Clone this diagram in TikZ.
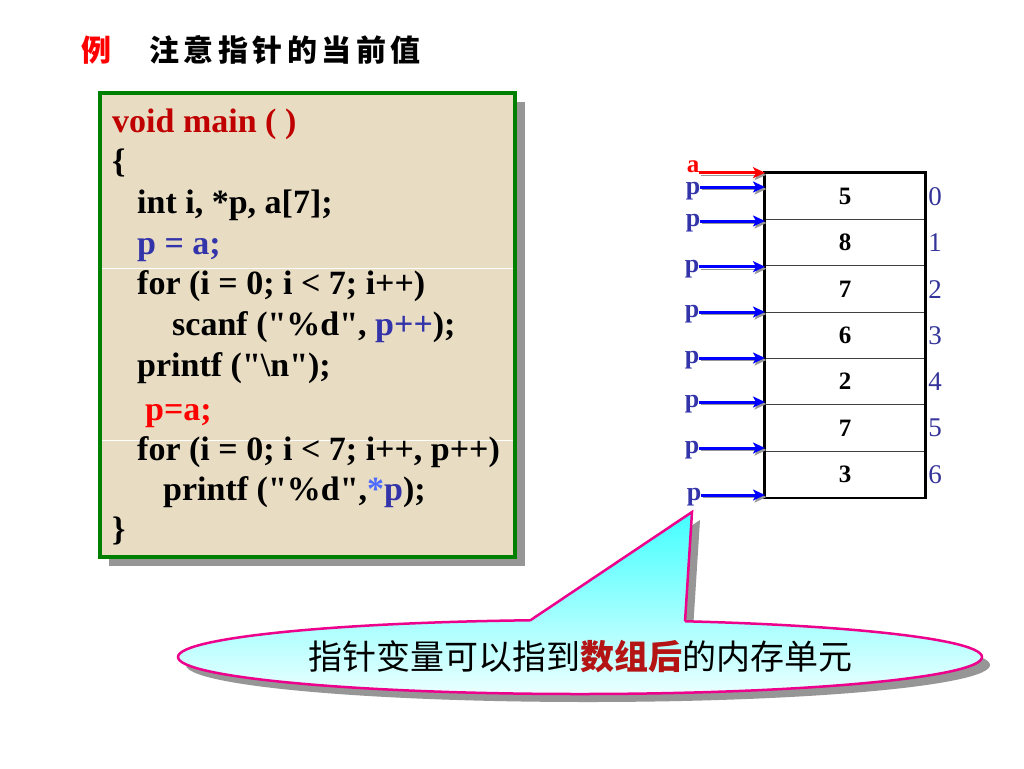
\documentclass[tikz,border=0pt]{standalone}
\usepackage{fontspec}
\setmainfont{Liberation Serif}
\newfontfamily\cjk{Noto Sans CJK SC}
\newfontfamily\cjkt[LetterSpace=15]{Noto Sans CJK SC}
\usetikzlibrary{arrows.meta}
\definecolor{codered}{RGB}{192,0,0}
\definecolor{pblue}{RGB}{51,51,170}
\definecolor{starblue}{RGB}{77,107,255}
\definecolor{codegreen}{RGB}{0,128,0}
\definecolor{paper}{RGB}{232,221,195}
\definecolor{shadowgray}{RGB}{150,150,150}
\definecolor{idxblue}{RGB}{51,51,153}
\definecolor{calltop}{RGB}{64,255,255}
\definecolor{callbot}{RGB}{240,255,255}
\definecolor{darkred}{RGB}{180,20,20}
\newcommand\dq{\textquotedbl}
\tikzset{
  codeline/.style={anchor=base west, inner sep=0pt, font=\fontsize{34}{40}\selectfont\bfseries},
  cell/.style={draw=black!75, line width=0.9pt, minimum width=160pt, minimum height=46.33pt, inner sep=0pt, font=\fontsize{25}{30}\selectfont\bfseries},
  idx/.style={inner sep=0pt, text=idxblue, font=\fontsize{27}{30}\selectfont},
  plabel/.style={inner sep=0pt, text height=11pt, text depth=0pt, text=pblue, font=\fontsize{26}{30}\selectfont\bfseries},
  alabel/.style={inner sep=0pt, text height=4.6pt, text depth=0pt, text=red, font=\fontsize{25}{28}\selectfont\bfseries},
  parrow/.style={-{Stealth[length=12pt,width=11pt,inset=3pt]}, line width=3pt, draw=blue,
    preaction={draw=shadowgray, transform canvas={shift={(1.5pt,-2pt)}}}},
  aarrow/.style={parrow, draw=red},
}
\begin{document}
\begin{tikzpicture}[x=1pt,y=-1pt]
\useasboundingbox (0,0) rectangle (1024,768);
\fill[white] (0,0) rectangle (1024,768);

% title
\node[inner sep=0pt, text=red, font=\fontsize{30}{34}\selectfont\cjk\bfseries] (ex) at (96,50) {例};
\node[anchor=west, inner sep=0pt, font=\fontsize{30}{34}\selectfont\cjkt\bfseries] (title) at (149,50) {注意指针的当前值};

% code box
\fill[shadowgray] (109,102) rectangle (525,566);
\draw[codegreen, line width=4pt, fill=paper] (100,93) rectangle (515,557);
\draw[white, line width=0.8pt] (102,268) -- (513,268);
\draw[white, line width=0.8pt] (102,440) -- (513,440);

\node[codeline, text=codered] (c1) at (112,132) {void main ( )};
\node[codeline] (c2) at (112,172) {\{};
\node[codeline] (c3) at (137,213) {int i, *p, a[7];};
\node[codeline, text=pblue] (c4) at (137,254) {p = a;};
\node[codeline] (c5) at (137,294) {for (i = 0; i < 7; i++)};
\node[codeline] (c6) at (172,335) {scanf (\dq\%d\dq, \textcolor{pblue}{p++});};
\node[codeline] (c7) at (137,376) {printf (\dq\textbackslash n\dq);};
\node[codeline, text=red] (c8) at (145,420) {p=a;};
\node[codeline] (c9) at (137,460) {for (i = 0; i < 7; i++, p++)};
\node[codeline] (c10) at (163,500) {printf (\dq\%d\dq,\textcolor{starblue}{*}\textcolor{pblue}{p});};
\node[codeline] (c11) at (112,540) {\}};

% array
\node[cell] (cell0) at (845,196.17) {5};
\node[cell] (cell1) at (845,242.5) {8};
\node[cell] (cell2) at (845,288.83) {7};
\node[cell] (cell3) at (845,335.17) {6};
\node[cell] (cell4) at (845,381.5) {2};
\node[cell] (cell5) at (845,427.83) {7};
\node[cell] (cell6) at (845,474.17) {3};
\draw[line width=2.5pt] (cell0.north west) rectangle (cell6.south east);

\node[idx] (i0) at (935,196.5) {0};
\node[idx] (i1) at (935,243) {1};
\node[idx] (i2) at (935,289.5) {2};
\node[idx] (i3) at (935,335.5) {3};
\node[idx] (i4) at (935,382) {4};
\node[idx] (i5) at (935,428) {5};
\node[idx] (i6) at (935,474.5) {6};

% pointers
\coordinate (ta) at (765,172.7);
\coordinate (t0) at (765,187);
\coordinate (t1) at (765,221);
\coordinate (t2) at (765,266.7);
\coordinate (t3) at (765,312);
\coordinate (t4) at (765,358);
\coordinate (t5) at (765,402);
\coordinate (t6) at (765,448);
\coordinate (t7) at (765,495);

\node[alabel] (la) at (693,170.5) {a};
\node[plabel] (p0) at (693,189) {p};
\node[plabel] (p1) at (693,221) {p};
\node[plabel] (p2) at (692,266.7) {p};
\node[plabel] (p3) at (692,312) {p};
\node[plabel] (p4) at (692,358) {p};
\node[plabel] (p5) at (692,402) {p};
\node[plabel] (p6) at (692,448) {p};
\node[plabel] (p7) at (694,495) {p};

\draw[aarrow] (la.east |- ta) -- (ta);
\draw[parrow] (p0.east |- t0) -- (t0);
\draw[parrow] (p1) -- (t1);
\draw[parrow] (p2) -- (t2);
\draw[parrow] (p3) -- (t3);
\draw[parrow] (p4) -- (t4);
\draw[parrow] (p5) -- (t5);
\draw[parrow] (p6) -- (t6);
\draw[parrow] (p7) -- (t7);

% callout
\fill[shadowgray] (588,665) ellipse [x radius=402pt, y radius=37pt];
\fill[shadowgray] (538,628) -- (700,520) -- (693,630) -- cycle;
\begin{scope}
  \clip (580,657) ellipse [x radius=402pt, y radius=37pt];
  \shade[top color=calltop, bottom color=callbot] (170,510) rectangle (990,700);
\end{scope}
\draw[magenta, line width=2.5pt] (580,657) ellipse [x radius=402pt, y radius=37pt];
\begin{scope}
  \clip (530,620.5) -- (692,512) -- (685,621.5) -- (685,634) -- (530,634) -- cycle;
  \shade[top color=calltop, bottom color=callbot] (170,510) rectangle (990,700);
\end{scope}
\draw[magenta, line width=2.5pt, line join=miter] (530,620.5) -- (692,512) -- (685,621.5);
\node[inner sep=0pt, font=\fontsize{34}{40}\selectfont\cjk] (note) at (580,657) {指针变量可以指到\textcolor{darkred}{\bfseries 数组后}的内存单元};
\end{tikzpicture}
\end{document}
